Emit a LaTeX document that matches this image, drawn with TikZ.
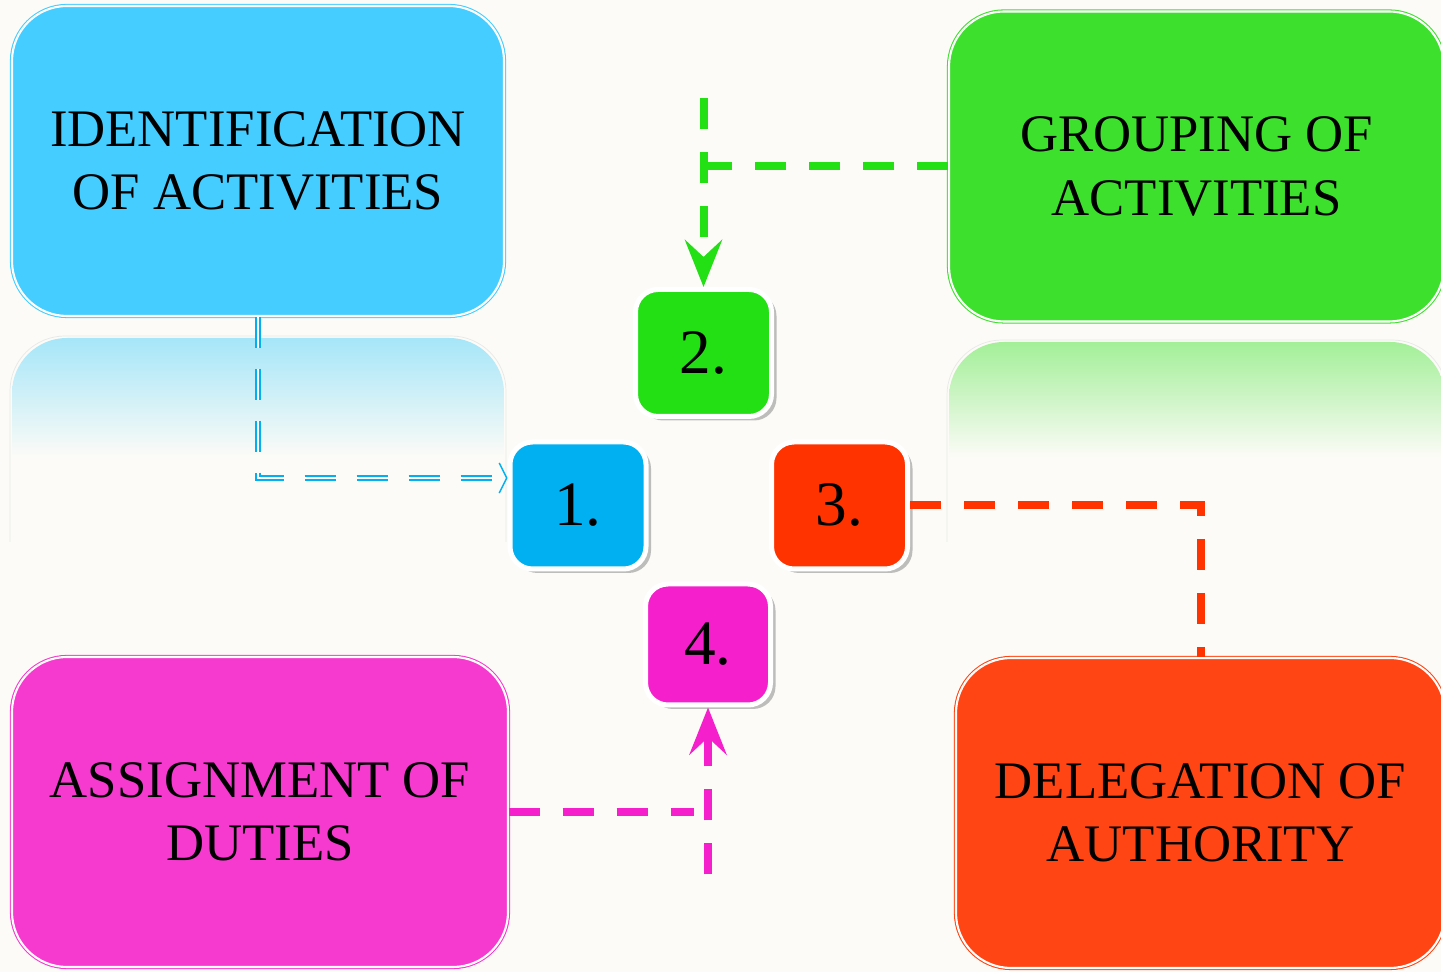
\documentclass[tikz,border=0pt]{standalone}
\usepackage{fontspec}
\setmainfont{Liberation Serif}
\usetikzlibrary{arrows.meta,shadows}
\definecolor{bg}{HTML}{FCFBF7}
\definecolor{skybig}{HTML}{45CDFF}
\definecolor{grnbig}{HTML}{3EE02E}
\definecolor{pnkbig}{HTML}{F63ACF}
\definecolor{orgbig}{HTML}{FF4513}
\definecolor{skynum}{HTML}{00B0F0}
\definecolor{grnnum}{HTML}{22E014}
\definecolor{orgnum}{HTML}{FF3300}
\definecolor{pnknum}{HTML}{F520CC}
\definecolor{skyfade}{HTML}{A6E6F8}
\definecolor{grnfade}{HTML}{A3EF98}

\begin{document}
\begin{tikzpicture}[>={Stealth[length=0.94cm,width=0.74cm,inset=0.34cm]},
  bigbox/.style={rounded corners=1.1cm, minimum width=9.84cm, minimum height=6.2cm,
    line width=0.6pt, double=white, double distance=1.2pt, align=center,
    font=\fontsize{30}{36}\selectfont},
  numbox/.style={rounded corners=0.45cm, draw=white, line width=0.1cm,
    minimum width=2.72cm, minimum height=2.54cm, font=\fontsize{36}{40}\selectfont,
    drop shadow={shadow xshift=0.1cm, shadow yshift=-0.08cm, opacity=0.5}},
  link/.style={line width=0.16cm, dash pattern=on 0.62cm off 0.46cm}]

\fill[bg] (0,0) rectangle (28.82,19.44);
\useasboundingbox (0,0) rectangle (28.82,19.44);

% mirrored glow under the two top boxes
\begin{scope}
\clip[rounded corners=1.1cm] (0.24,6.48) rectangle (10.08,12.68);
\shade[top color=skyfade, bottom color=bg] (0.24,10.3) rectangle (10.08,12.68);
\end{scope}
\begin{scope}
\clip[rounded corners=1.1cm] (18.98,6.4) rectangle (28.9,12.6);
\shade[top color=grnfade, bottom color=bg] (18.98,10.3) rectangle (28.9,12.6);
\end{scope}
\begin{scope}
\clip (0,8.6) rectangle (28.82,13);
\draw[black!9, rounded corners=1.1cm] (0.2,6.44) rectangle (10.12,12.72);
\draw[black!9, rounded corners=1.1cm] (18.94,6.36) rectangle (28.94,12.64);
\end{scope}

\draw(5.16,16.22) node[bigbox, fill=skybig, draw=skybig] (idf) {IDENTIFICATION\\OF ACTIVITIES};
\draw(23.93,16.11) node[bigbox, fill=grnbig, draw=grnbig, minimum width=9.9cm] (grp) {GROUPING OF\\ACTIVITIES};
\draw(5.2,3.2) node[bigbox, fill=pnkbig, draw=pnkbig, minimum width=9.92cm] (asg) {ASSIGNMENT OF\\DUTIES};
\draw(24.01,3.18) node[bigbox, fill=orgbig, draw=orgbig, minimum width=9.78cm] (dlg) {DELEGATION OF\\AUTHORITY};

\draw(11.56,9.33) node[numbox, fill=skynum] (one) {1.};
\draw(14.07,12.38) node[numbox, fill=grnnum] (two) {2.};
\draw(16.79,9.33) node[numbox, fill=orgnum] (three) {3.};
\draw(14.16,6.55) node[numbox, fill=pnknum, minimum width=2.5cm, minimum height=2.42cm] (four) {4.};

\coordinate (gtop) at ([yshift=3.78cm]two.north);
\coordinate (pbot) at ([yshift=-3.34cm]four.south);

\draw[skynum, line width=0.8pt, double=white, double distance=1.4pt,
  dash pattern=on 0.62cm off 0.42cm, -{Straight Barb[length=0.15cm,width=0.6cm]}]
  (idf.south) |- ([yshift=0.55cm]one.west);
\draw[link, grnnum] (grp.west) -- (grp.west -| gtop);
\draw[link, grnnum, ->] (gtop) -- (two.north);
\draw[link, orgnum] (three.east) -| (dlg.north);
\draw[link, pnknum] (asg.east) -- ([xshift=-0.28cm]asg.east -| pbot);
\draw[link, pnknum, ->] (pbot) -- (four.south);

\end{tikzpicture}
\end{document}
